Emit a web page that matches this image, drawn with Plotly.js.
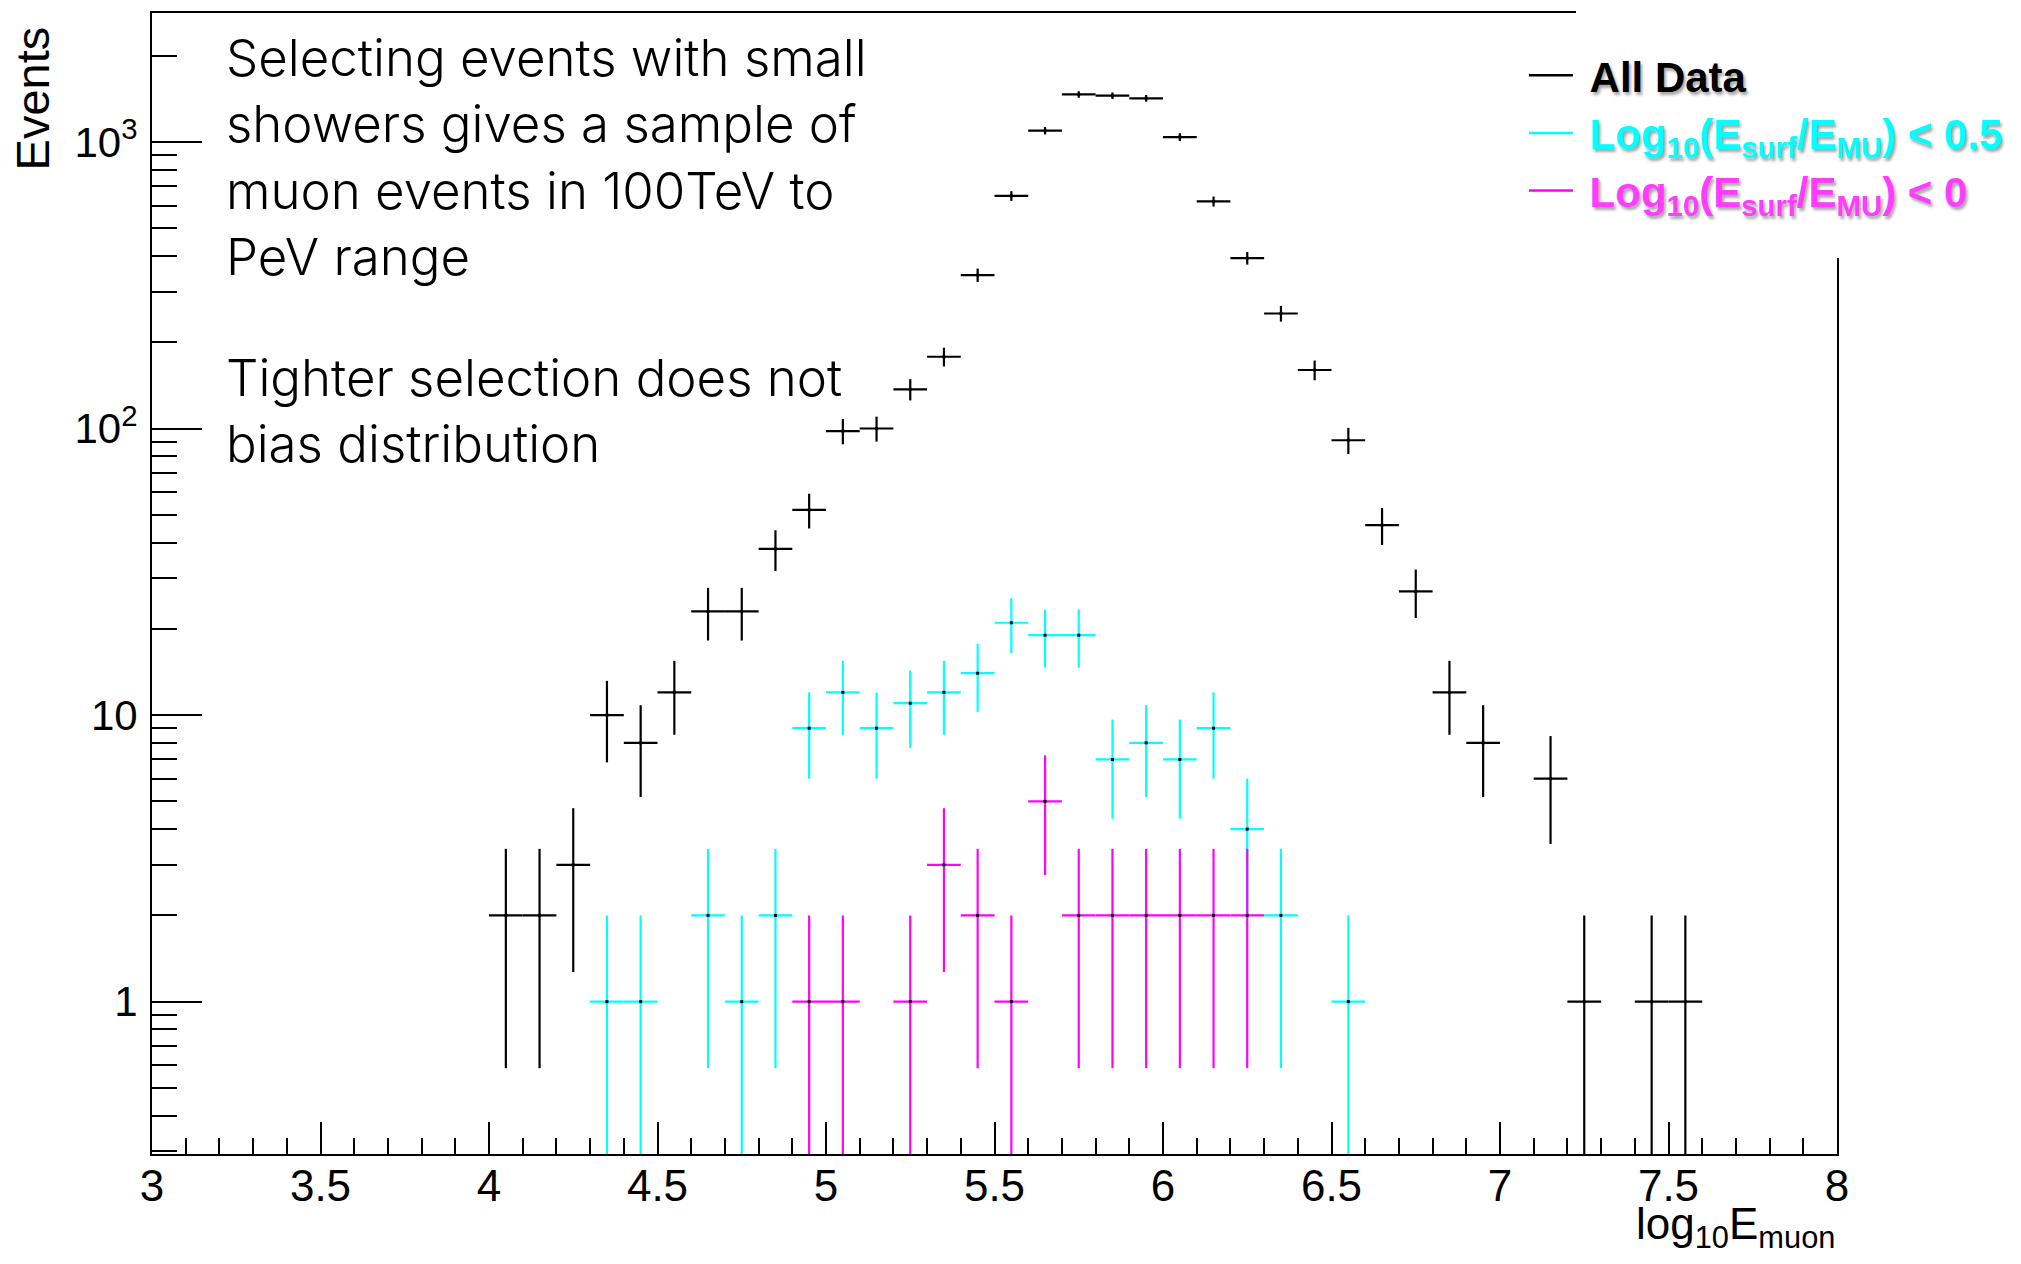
<!DOCTYPE html>
<html>
<head>
<meta charset="utf-8">
<script src="https://cdn.plot.ly/plotly-3.0.1.min.js"></script>
<style>
  html, body { margin: 0; padding: 0; background: #fff; }
  #plot { width: 2021px; height: 1264px; }
  .legendtext { text-shadow: 2px 3px 3px rgba(0, 0, 0, 0.35); }
</style>
</head>
<body>
<div id="plot"></div>
<script>
// Muon energy spectrum, binned in log10(E_muon), bin width 0.1
const binHalfWidth = 0.05;

// All data
const allX = [4.05, 4.15, 4.25, 4.35, 4.45, 4.55, 4.65, 4.75, 4.85, 4.95,
              5.05, 5.15, 5.25, 5.35, 5.45, 5.55, 5.65, 5.75, 5.85, 5.95,
              6.05, 6.15, 6.25, 6.35, 6.45, 6.55, 6.65, 6.75, 6.85, 6.95,
              7.15, 7.25, 7.45, 7.55];
const allY = [2, 2, 3, 10, 8, 12, 23, 23, 38, 52,
              98, 100, 137, 178, 343, 648, 1095, 1465, 1450, 1420,
              1040, 620, 393, 252, 160, 91, 46, 27, 12, 8,
              6, 1, 1, 1];

// Log10(Esurf/EMU) < 0.5
const looseX = [4.35, 4.45, 4.65, 4.75, 4.85, 4.95, 5.05, 5.15, 5.25, 5.35,
                5.45, 5.55, 5.65, 5.75, 5.85, 5.95, 6.05, 6.15, 6.25, 6.35,
                6.55];
const looseY = [1, 1, 2, 1, 2, 9, 12, 9, 11, 12,
                14, 21, 19, 19, 7, 8, 7, 9, 4, 2,
                1];

// Log10(Esurf/EMU) < 0
const tightX = [4.95, 5.05, 5.25, 5.35, 5.45, 5.55, 5.65, 5.75, 5.85, 5.95,
                6.05, 6.15, 6.25];
const tightY = [1, 1, 1, 3, 2, 1, 5, 2, 2, 2,
                2, 2, 2];

const yTickVals = [1, 10, 100, 1000];
const yTickText = ['1', '10', '10<sup>2</sup>', '10<sup>3</sup>'];

const legendNames = [
  '<span style="color:#000000">&nbsp;All Data</span>',
  '<span style="color:#00ffff">&nbsp;Log<sub>10</sub>(E<sub>surf</sub>/E<sub>MU</sub>) &lt; 0.5</span>',
  '<span style="color:#ff3cff">&nbsp;Log<sub>10</sub>(E<sub>surf</sub>/E<sub>MU</sub>) &lt; 0</span>'
];

const noteLines1 = ['Selecting events with small', 'showers gives a sample of',
                    'muon events in 100TeV to', 'PeV range'];
const noteLines2 = ['Tighter selection does not', 'bias distribution'];

const COLORS = ['#000000', '#00ffff', '#ff00ff'];

// Poisson uncertainty of each bin count
function poisson(counts) {
  return counts.map(n => Math.sqrt(n));
}

function histTrace(xs, ys, color) {
  return {
    type: 'scatter',
    mode: 'markers',
    x: xs,
    y: ys,
    showlegend: false,
    cliponaxis: true,
    marker: { symbol: 'square', size: 3, color: '#000000', line: { width: 0 } },
    error_x: { type: 'constant', value: binHalfWidth, color: color, thickness: 2.2, width: 0 },
    error_y: { type: 'data', array: poisson(ys), arrayminus: poisson(ys), symmetric: false,
               color: color, thickness: 2.2, width: 0 },
    hoverinfo: 'x+y'
  };
}

function legendEntry(name, color) {
  return {
    type: 'scatter', mode: 'lines', x: [null], y: [null],
    name: name, line: { color: color, width: 2.5 }, hoverinfo: 'skip'
  };
}

const traces = [
  histTrace(allX, allY, COLORS[0]),
  histTrace(looseX, looseY, COLORS[1]),
  histTrace(tightX, tightY, COLORS[2]),
  legendEntry(legendNames[0], COLORS[0]),
  legendEntry(legendNames[1], COLORS[1]),
  legendEntry(legendNames[2], COLORS[2])
];

const SANS = '"Liberation Sans", Arial, Helvetica, sans-serif';
const LIGHT = 'Inter, Roboto, "Liberation Sans", sans-serif';
const TICK_FONT = { family: SANS, size: 44, color: '#000' };
const NOTE_FONT = { family: LIGHT, size: 51, weight: 300, color: '#000' };

const layout = {
  width: 2021,
  height: 1264,
  paper_bgcolor: '#ffffff',
  plot_bgcolor: '#ffffff',
  margin: { l: 152, r: 184, t: 13, b: 110, pad: 0 },
  showlegend: true,
  legend: {
    x: 0.8142, y: 0.975, xanchor: 'left', yanchor: 'top',
    bgcolor: 'rgba(0,0,0,0)', borderwidth: 0, itemwidth: 44,
    font: { family: SANS, size: 42, weight: 'bold', color: '#000' },
    traceorder: 'normal', itemclick: false, itemdoubleclick: false
  },
  xaxis: {
    range: [3, 8],
    showgrid: false, zeroline: false,
    showline: true, linecolor: '#000', linewidth: 2, mirror: true,
    ticks: 'inside', ticklen: 32, tickwidth: 2, tickcolor: '#000',
    tick0: 3, dtick: 0.5,
    minor: { ticks: 'inside', ticklen: 16, tickwidth: 2, tickcolor: '#000', dtick: 0.1, tick0: 3 },
    tickfont: TICK_FONT,
    ticklabelstandoff: -8
  },
  yaxis: {
    type: 'log',
    range: [Math.log10(0.294), 3.45],
    showgrid: false, zeroline: false,
    showline: true, linecolor: '#000', linewidth: 2, mirror: true,
    ticks: 'inside', ticklen: 50, tickwidth: 2, tickcolor: '#000',
    tickmode: 'array', tickvals: yTickVals, ticktext: yTickText,
    minor: { ticks: 'inside', ticklen: 25, tickwidth: 2, tickcolor: '#000', dtick: 'D1' },
    tickfont: { family: SANS, size: 42, color: '#000' },
    ticklabelstandoff: 4
  },
  shapes: [
    // blank panel behind the legend, hiding that corner of the frame
    { type: 'rect', xref: 'paper', yref: 'paper', x0: 0.8451, x1: 1.2, y0: 0.7853, y1: 1.1,
      fillcolor: '#ffffff', line: { width: 0 }, layer: 'above' }
  ],
  annotations: [
    {
      xref: 'paper', yref: 'paper', x: 0.0427, y: 0.9895, xanchor: 'left', yanchor: 'top',
      align: 'left', showarrow: false, text: noteLines1.join('<br>'), font: NOTE_FONT
    },
    {
      xref: 'paper', yref: 'paper', x: 0.0427, y: 0.709, xanchor: 'left', yanchor: 'top',
      align: 'left', showarrow: false, text: noteLines2.join('<br>'), font: NOTE_FONT
    },
    {
      xref: 'paper', yref: 'paper', x: -0.0712, y: 0.99, xanchor: 'center', yanchor: 'top',
      textangle: -90, showarrow: false, text: 'Events',
      font: { family: SANS, size: 47, color: '#000' }
    },
    {
      xref: 'paper', yref: 'paper', x: 1, y: -0.038, xanchor: 'right', yanchor: 'top',
      showarrow: false, text: 'log<sub>10</sub>E<sub>muon</sub>',
      font: { family: SANS, size: 44, color: '#000' }
    }
  ]
};

Plotly.newPlot('plot', traces, layout, { displayModeBar: false, staticPlot: true });
</script>
</body>
</html>
